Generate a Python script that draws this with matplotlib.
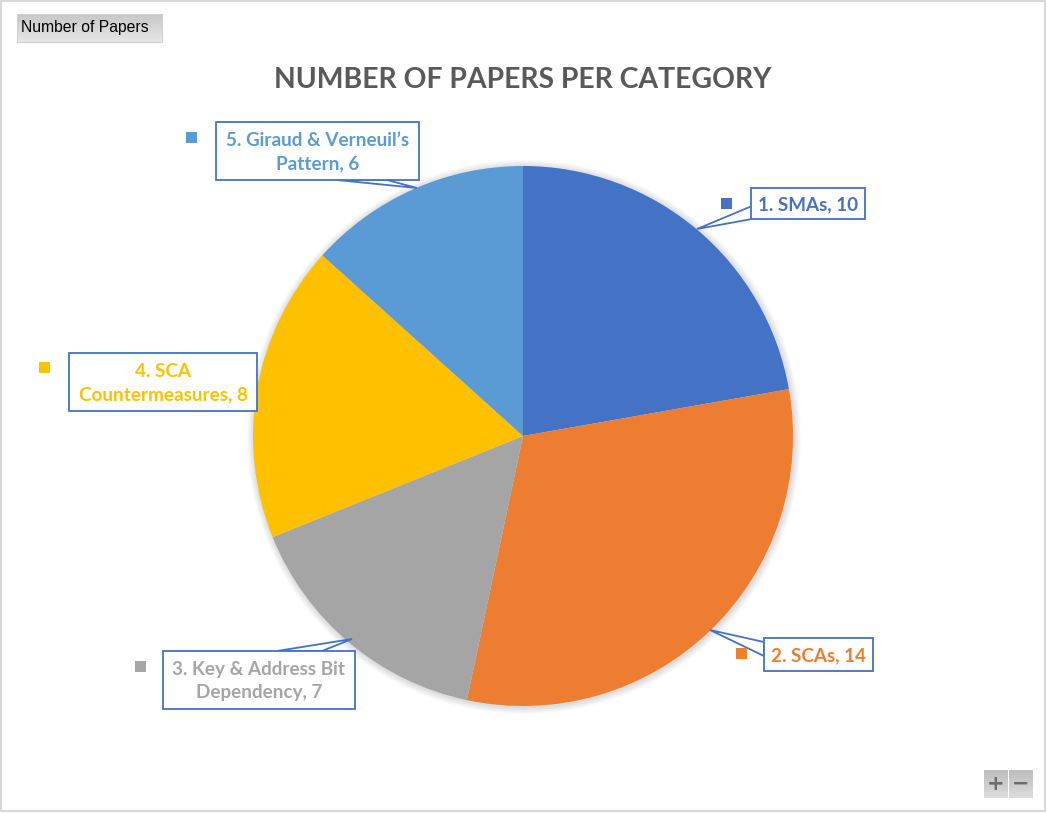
import numpy as np
import matplotlib.pyplot as plt
from matplotlib.patches import Rectangle, Polygon, Circle
from matplotlib.colors import LinearSegmentedColormap

categories = ["1. SMAs", "2. SCAs", "3. Key & Address Bit Dependency",
              "4. SCA Countermeasures", "5. Giraud & Verneuil\u2019s Pattern"]
values = [10, 14, 7, 8, 6]
label_lines = ["1. SMAs, 10", "2. SCAs, 14", "3. Key & Address Bit\nDependency, 7",
               "4. SCA\nCountermeasures, 8", "5. Giraud & Verneuil\u2019s\nPattern, 6"]
colors = ["#4472C4", "#ED7D31", "#A5A5A5", "#FFC000", "#5B9BD5"]

W, H = 1047, 813


def Y(y):
    return H - y


fig = plt.figure(figsize=(W / 100, H / 100), dpi=100)
ax = fig.add_axes([0, 0, 1, 1])

cx, cy, r = 523, 436, 270

# soft shadow behind the pie
for i in range(1, 8):
    ax.add_patch(Circle((cx + 1, Y(cy + 1)), r + i, color="black", alpha=0.018, lw=0, zorder=1))

ax.pie(values, colors=colors, startangle=90, counterclock=False, center=(cx, Y(cy)),
       radius=r, wedgeprops=dict(linewidth=0), frame=True)

# callout boxes: (left, top, right, bottom), tail (base1, base2, tip), marker centre
boxes = [(751, 188, 865, 219), (764, 638, 873, 671), (163, 651, 355, 709),
         (69, 353, 257, 411), (216, 122, 419, 180)]
tails = [((752, 206), (752, 219), (697, 229)),
         ((764, 642), (764, 656), (710, 630)),
         ((277, 651), (322, 651), (352, 639)),
         None,
         ((337, 180), (387, 180), (417, 188))]
markers = [(726, 204), (741, 654), (140, 667), (44, 368), (191, 138)]
edge = "#4472C4"

for i in range(len(values)):
    x0, y0, x1, y1 = boxes[i]
    if tails[i] is not None:
        b1, b2, tip = tails[i]
        ax.add_patch(Polygon([(b1[0], Y(b1[1])), (tip[0], Y(tip[1])), (b2[0], Y(b2[1]))],
                             closed=True, facecolor="white", edgecolor=edge, lw=1.3, zorder=4))
    ax.add_patch(Rectangle((x0, Y(y1)), x1 - x0, y1 - y0, facecolor="white",
                           edgecolor=edge, lw=1.3, zorder=5))
    ax.text((x0 + x1) / 2, Y((y0 + y1) / 2 + 1), label_lines[i], ha="center", va="center",
            color=colors[i], fontsize=13.6, fontweight="bold", family="Lato",
            linespacing=1.4, zorder=6)
    mx, my = markers[i]
    ax.add_patch(Rectangle((mx - 5.5, Y(my + 5.5)), 11, 11, facecolor=colors[i], lw=0, zorder=6))

# title
ax.text(523, Y(80), "NUMBER OF PAPERS PER CATEGORY", ha="center", va="center",
        fontsize=20.4, fontweight="bold", color="#595959", family="Lato")

# top-left field button
grad = np.linspace(0, 1, 50).reshape(-1, 1)
ax.imshow(grad, extent=(17, 162, Y(42), Y(14)),
          cmap=LinearSegmentedColormap.from_list("g", ["#c8c8c8", "#e6e6e6"]), aspect="auto", zorder=2)
ax.add_patch(Rectangle((17, Y(42)), 145, 28, fill=False, edgecolor="#d0d0d0", lw=0.8, zorder=3))
ax.text(21, Y(28), "Number of Papers", ha="left", va="center", fontsize=11.3,
        family="Liberation Sans", color="black", zorder=4)

# zoom buttons bottom right
for bx, sym in [(984, "+"), (1009, "\u2212")]:
    ax.imshow(grad, extent=(bx, bx + 24, Y(798), Y(770)),
              cmap=LinearSegmentedColormap.from_list("b", ["#bdbdbd", "#dcdcdc"]),
              aspect="auto", zorder=2)
    ax.text(bx + 12, Y(784), sym, ha="center", va="center", fontsize=15, fontweight="bold",
            color="#6b6b6b", zorder=3)

# outer frame
ax.add_patch(Rectangle((1, Y(811)), 1044, 810, fill=False, edgecolor="#d9d9d9", lw=1.5, zorder=10))

ax.set_xlim(0, W)
ax.set_ylim(0, H)
ax.set_aspect("equal")
ax.axis("off")

fig.savefig("out.png", dpi=100)
